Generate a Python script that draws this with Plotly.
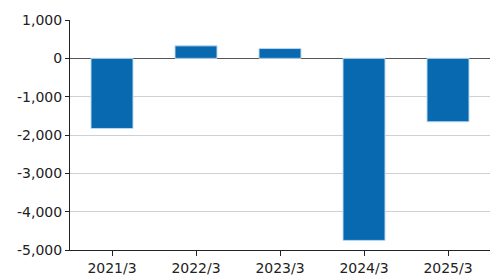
import plotly.graph_objects as go

categories = ["2021/3", "2022/3", "2023/3", "2024/3", "2025/3"]
values = [-1830, 325, 255, -4750, -1655]
y_ticks = [1000, 0, -1000, -2000, -3000, -4000, -5000]
y_tick_text = ["1,000", "0", "-1,000", "-2,000", "-3,000", "-4,000", "-5,000"]

fig = go.Figure(go.Bar(
    x=categories, y=values, width=0.5,
    marker=dict(color="#0868b0", line=dict(color="#b8d8f2", width=1)),
))

fig.update_layout(
    width=500, height=280,
    margin=dict(l=70, r=10, t=20, b=30),
    paper_bgcolor="white", plot_bgcolor="white",
    font=dict(family="DejaVu Sans, Verdana, sans-serif", size=14, color="#222"),
    showlegend=False,
    bargap=0.5,
)
fig.update_xaxes(
    showline=True, linecolor="#222", linewidth=1,
    ticks="outside", ticklen=5, tickcolor="#222",
    showgrid=False, automargin=False,
)
fig.update_yaxes(
    range=[-5000, 1000], tickvals=y_ticks, ticktext=y_tick_text,
    showline=True, linecolor="#222", linewidth=1,
    ticks="outside", ticklen=4, tickcolor="#222",
    showgrid=True, gridcolor="#d0d0d0", gridwidth=1,
    zeroline=True, zerolinecolor="#555", zerolinewidth=1,
    automargin=False,
)

fig.write_html("out.html")
